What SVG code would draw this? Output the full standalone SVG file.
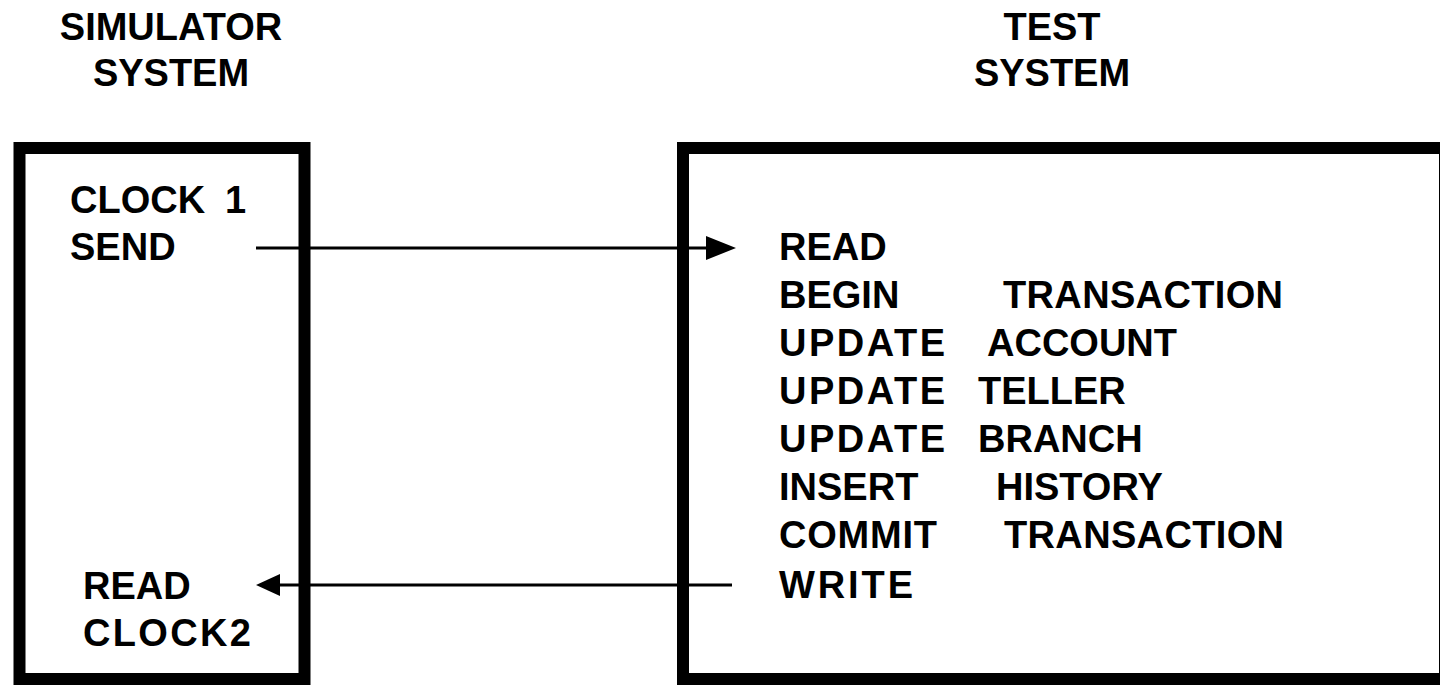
<svg xmlns="http://www.w3.org/2000/svg" width="1440" height="685" viewBox="0 0 1440 685">
  <style>
    .box { fill: none; stroke: #000; stroke-width: 12; }
    .lbl { font-family: "Liberation Sans", Arial, sans-serif; font-weight: bold; font-size: 38px; fill: #000; }
    .ttl { text-anchor: middle; }
    .wire { stroke: #000; stroke-width: 3; fill: none; }
    .head { fill: #000; }
  </style>
  <rect width="1440" height="685" fill="#fff"/>

  <!-- column titles -->
  <g id="title-simulator">
    <text class="lbl ttl" x="171" y="40">SIMULATOR</text>
    <text class="lbl ttl" x="171" y="86">SYSTEM</text>
  </g>
  <g id="title-test">
    <text class="lbl ttl" x="1052" y="40">TEST</text>
    <text class="lbl ttl" x="1052" y="86">SYSTEM</text>
  </g>

  <!-- simulator system box -->
  <g id="simulator">
    <rect class="box" x="19.5" y="148" width="285" height="531"/>
    <text class="lbl" x="70" y="213">CLOCK<tspan x="225">1</tspan></text>
    <text class="lbl" x="70" y="260">SEND</text>
    <text class="lbl" x="83" y="599">READ</text>
    <text class="lbl" x="83" y="646" textLength="168" lengthAdjust="spacing">CLOCK2</text>
  </g>

  <!-- test system box (right side runs past the frame) -->
  <g id="test">
    <rect class="box" x="683" y="148" width="762" height="531"/>
    <text class="lbl" x="779" y="260">READ</text>
    <text class="lbl" x="779" y="308">BEGIN</text>
    <text class="lbl" x="1003" y="308" textLength="280" lengthAdjust="spacing">TRANSACTION</text>
    <text class="lbl" x="779" y="356" textLength="166" lengthAdjust="spacing">UPDATE</text>
    <text class="lbl" x="987" y="356">ACCOUNT</text>
    <text class="lbl" x="779" y="404" textLength="166" lengthAdjust="spacing">UPDATE</text>
    <text class="lbl" x="978" y="404">TELLER</text>
    <text class="lbl" x="779" y="452" textLength="166" lengthAdjust="spacing">UPDATE</text>
    <text class="lbl" x="978" y="452">BRANCH</text>
    <text class="lbl" x="779" y="500">INSERT</text>
    <text class="lbl" x="996" y="500">HISTORY</text>
    <text class="lbl" x="779" y="548" textLength="158" lengthAdjust="spacing">COMMIT</text>
    <text class="lbl" x="1004" y="548" textLength="280" lengthAdjust="spacing">TRANSACTION</text>
    <text class="lbl" x="779" y="598" textLength="134" lengthAdjust="spacing">WRITE</text>
  </g>

  <!-- connectors -->
  <g id="connectors">
    <line class="wire" x1="256" y1="248" x2="710" y2="248"/>
    <polygon class="head" points="736,248 706,236 706,260"/>
    <line class="wire" x1="732" y1="585" x2="276" y2="585"/>
    <polygon class="head" points="256,585 280,574 280,596"/>
  </g>
</svg>
